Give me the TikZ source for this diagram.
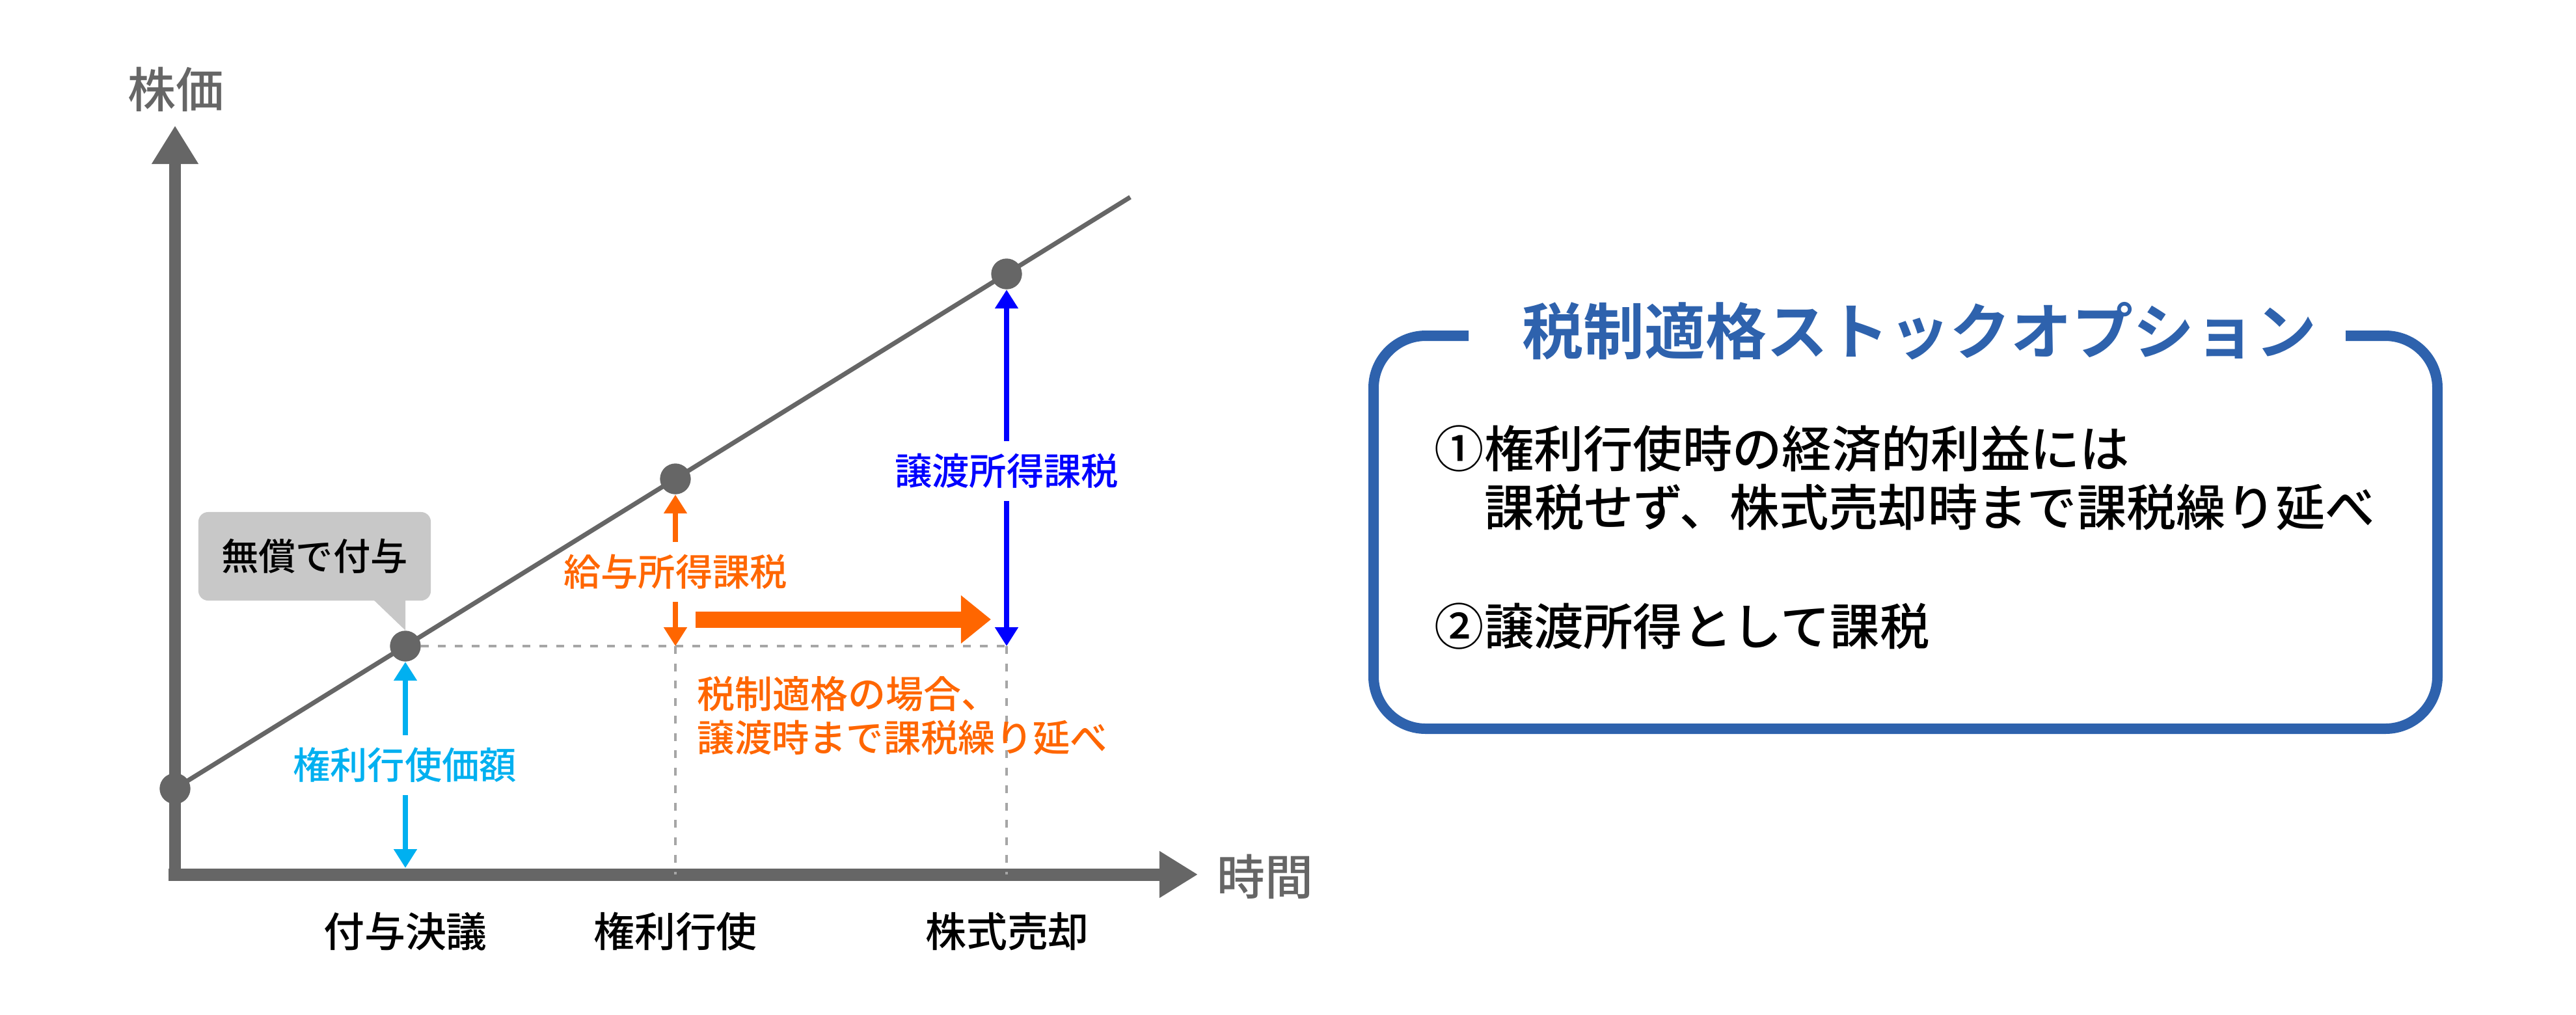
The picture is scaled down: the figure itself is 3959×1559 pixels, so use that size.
\documentclass[tikz,border=0pt]{standalone}
\usepackage{fontspec}
\setmainfont{Noto Sans CJK JP}[UprightFont=* Medium,BoldFont=* Bold]
\usetikzlibrary{arrows.meta}
\definecolor{axisgray}{HTML}{666666}
\definecolor{dashgray}{HTML}{A6A6A6}
\definecolor{calloutgray}{HTML}{C8C8C8}
\definecolor{cyanc}{HTML}{00B0F0}
\definecolor{orangec}{HTML}{FF6600}
\definecolor{bluec}{HTML}{0000FF}
\definecolor{boxblue}{HTML}{2E62AD}
\newcommand\fLabel{\fontsize{16.3pt}{19pt}\selectfont}
\newcommand\fTick{\fontsize{17.9pt}{21pt}\selectfont}
\newcommand\fAxis{\fontsize{21pt}{25pt}\selectfont}
\newcommand\fBox{\fontsize{21.7pt}{26pt}\selectfont}
\newcommand\fTitle{\fontsize{26.7pt}{31pt}\selectfont}
\begin{document}
\begin{tikzpicture}[x=0.01cm,y=-0.01cm,
  axisline/.style={draw=axisgray,line width=5.4pt,-{Triangle[width=19.3pt,length=16.8pt]}},
  priceline/.style={draw=axisgray,line width=2pt},
  dot/.style={circle,fill=axisgray,minimum size=0.47cm,inner sep=0pt},
  hdash/.style={draw=dashgray,line width=1.4pt,dash pattern=on 3.4pt off 4pt},
  vdash/.style={draw=dashgray,line width=0.9pt,dash pattern=on 3.4pt off 4.2pt},
  uptip/.style={line width=2.3pt,{Triangle[width=9.7pt,length=8.2pt]}-},
  downtip/.style={line width=2.3pt,-{Triangle[width=9.7pt,length=8.2pt]}},
  onarrow/.style={inner sep=0pt,minimum height=0.9cm,font=\fLabel},
  tick/.style={inner sep=0pt,font=\fTick},
  axlabel/.style={inner sep=0pt,font=\fAxis,text=axisgray},
  callout/.style={fill=calloutgray,rounded corners=0.15cm,minimum width=3.57cm,minimum height=1.36cm,inner sep=0pt,font=\fLabel},
  boxtext/.style={inner sep=0pt,font=\fBox,anchor=west}
]
\useasboundingbox (0,0) rectangle (3959,1559);

% dashed guides
\coordinate (hzend) at (1547,993);
\coordinate (exbase) at (1038,1344);
\coordinate (salebase) at (1547,1344);
\coordinate (exlevel) at (1038,993);

% axes
\draw[axisline] (269,1353) -- (269,193);
\draw[axisline] (259,1344) -- (1841,1344);
\node[axlabel] (ylab) at (270,137) {株価};
\node[axlabel] (xlab) at (1944,1347) {時間};

% price line and dots
\coordinate (lineend) at (1737,303);
\node[dot] (d0) at (269,1212) {};
\node[dot] (g) at (623,993) {};
\node[dot] (ex) at (1038,736) {};
\node[dot] (sale) at (1547,421) {};
\draw[priceline] (d0.center) -- (lineend);
\node[dot] at (d0) {};
\node[dot] at (g) {};
\node[dot] at (ex) {};
\node[dot] at (sale) {};

\draw[hdash] (g.east) -- (hzend);
\draw[vdash] (exlevel) -- (exbase);
\draw[vdash] (hzend) -- (salebase);

% callout
\node[callout] (gift) at (483.5,855) {無償で付与};
\fill[calloutgray] (570,918) -- ([yshift=0.03cm]g.north |- gift.south) -- (g.north) -- cycle;

% cyan arrow
\coordinate (gbase) at (623,1334);
\node[onarrow,text=cyanc] (strike) at (622,1176) {権利行使価額};
\draw[uptip,cyanc] (g.south) -- (g.south |- strike.north);
\draw[downtip,cyanc] (g.south |- strike.south) -- (gbase);

% orange arrow
\node[onarrow,text=orangec] (salary) at (1038,879) {給与所得課税};
\draw[uptip,orangec] (ex.south) -- (ex.south |- salary.north);
\draw[downtip,orangec] (ex.south |- salary.south) -- (exlevel);

% blue arrow
\node[onarrow,text=bluec] (transfer) at (1547,724) {譲渡所得課税};
\draw[uptip,bluec] (sale.south) -- (sale.south |- transfer.north);
\draw[downtip,bluec] (sale.south |- transfer.south) -- (hzend);

% big orange arrow
\coordinate (bigA) at (1069,952);
\coordinate (bigB) at (1523,952);
\draw[orangec,line width=7.1pt,-{Triangle[width=20.2pt,length=13.1pt]}] (bigA) -- (bigB);

\node[inner sep=0pt,font=\fLabel,text=orangec,align=left,anchor=west] (defer) at (1071,1100)
  {\fontsize{16.5pt}{21.6pt}\selectfont 税制適格の場合、\\ 譲渡時まで課税繰り延べ};

% ticks
\node[tick] (t1) at (623,1432) {付与決議};
\node[tick] (t2) at (1038,1432) {権利行使};
\node[tick] (t3) at (1548,1432) {株式売却};

% right box
\node[minimum width=16.35cm,minimum height=6.04cm,inner sep=0pt] (optbox) at (2928.5,818) {};
\draw[boxblue,line width=4.55pt,rounded corners=0.8cm]
  (2257,516) -- (2111,516) -- (2111,1120) -- (3746,1120) -- (3746,516) -- (3605,516);
\node[inner sep=0pt,font=\fTitle\bfseries,text=boxblue] (title) at (2950,509) {税制適格ストックオプション};
\node[boxtext] (l1) at (2204,690) {①権利行使時の経済的利益には};
\node[boxtext] (l2) at (2281,780) {課税せず、株式売却時まで課税繰り延べ};
\node[boxtext] (l3) at (2204,962) {②譲渡所得として課税};
\end{tikzpicture}
\end{document}
